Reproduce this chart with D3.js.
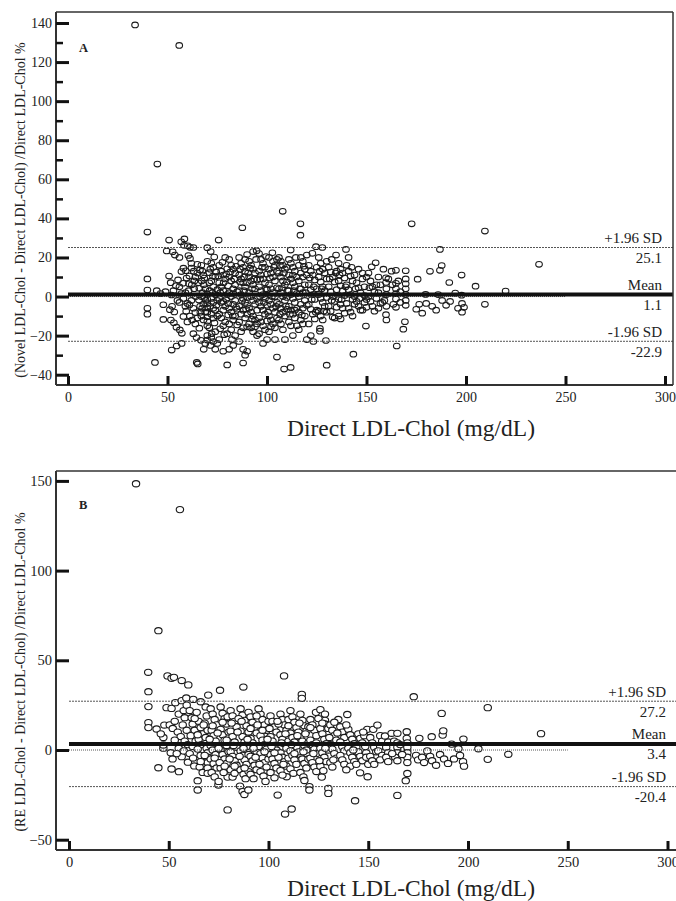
<!DOCTYPE html>
<html>
<head>
<meta charset="utf-8">
<script src="https://cdn.jsdelivr.net/npm/d3@7"></script>
<style>
  body { margin: 0; background: #fff; }
  svg text { font-family: "Liberation Serif", "DejaVu Serif", serif; fill: #222; }
</style>
</head>
<body>
<svg id="chart" width="676" height="901"></svg>
<script>
// ---- data ----
const xTicks = [0, 50, 100, 150, 200, 250, 300];
const yTicksA = [-40, -20, 0, 20, 40, 60, 80, 100, 120, 140];
const yMinorA = [-30, -10, 10, 30, 50, 70, 90, 110, 130];
const yTicksB = [-50, 0, 50, 100, 150];
const limitNames = ["+1.96 SD", "Mean", "-1.96 SD"];
const limitsA = [25.1, 1.1, -22.9];
const limitsB = [27.2, 3.4, -20.4];
const xTitle = "Direct LDL-Chol (mg/dL)";
const yTitleA = "(Novel LDL-Chol - Direct LDL-Chol) /Direct LDL-Chol %";
const yTitleB = "(RE LDL-Chol - Direct LDL-Chol) /Direct LDL-Chol %";

// panel A: [Direct LDL-Chol, % difference]
const ptsA = [
  [33.7,139],[55.9,128.5],[44.9,67.8],[107.9,43.6],[39.9,33],[39.9,9],[39.9,3.3],[39.9,-6],[39.9,-9],[43.7,-33.7],
  [44.6,3],[47.9,-11.7],[47.9,-4.2],[49,2.5],[49.6,23.3],[46.5,1.5],
  [50.8,28.9],[52.6,22.9],[53.7,21.2],[50.8,10.5],[51.6,7.1],[52.3,-5],[51.2,-6.7],[53.4,-7.9],[51.7,-12],[53.2,-13.4],
  [54.5,-15.7],[56.2,-17.1],[57.2,-18.8],[52.1,-27.4],[54.6,-25.3],[57.1,-24],[53,3],[54.2,5.5],[52,0.8],[56.9,28],
  [58.5,29.5],[58.3,26.2],[56,20],[58,14.5],[57,12.8],[59.2,13.2],[56,5],[57,1.5],[58,-1],[59,-5],[59.4,-7.5],[58,-10.2],
  [56,-3],[59,2],[60,-13],[55.3,8.5],[57.8,6.8],[59.6,9.5],[55,-2],[60,-3.5],
  [60.2,26],[61.3,25.2],[63,25.1],[61.3,19.5],[60.5,21],[62,17],[63.2,13],[61,10.5],[64,10],[62.2,6],[63.4,4],[60.6,3],
  [64.2,0],[62,-2],[61,-4.3],[63,-6],[64,-8.2],[61.2,-10],[62.4,-12],[64,-14],[64.7,-33.7],[65.2,-34.5],[63,-19],
  [65,16.5],[66.3,13.6],[65.5,7],[66,4.2],[65.8,-1.8],[66.4,-5],[65,-11],[66,-16.2],[64.6,-21],[62,14.6],[60.8,6.6],
  [67,16],[67.5,13],[68,11],[67.2,8],[68.2,6],[69,4],[67.6,2],[67,0],[69.2,-2],[68,-4],[67.4,-6],[69,-8],[67,-10],
  [68.1,-12],[66.8,-22.4],[68.2,-27],[69,-24],[70,25],[70,18],[70,1.3],[70,-1.4],[70,-3.6],[70,-5.8],[70,-8],[70,-10.4],
  [70,-12.7],[70,-15],[70,-20],[70,-22.3],[71.7,23],[72,17],[73,15],[71,12.2],[74,10],[72,8],[73,5],[71.2,3],[74,1],
  [72,-1],[73,-3],[71.4,-5],[74,-7],[72,-9],[73,-11],[71,-16],[74,-18],[72,-21],[73,-23],[71.6,-25],[74,-27],[75,-24],
  [75.7,28.9],[73.5,20.2],[71.5,14],[74.5,12.6],[72.6,2],[74.6,-4.5],[73.6,-13.5],[72.2,-19],
  [76,16],[77,13],[78,11],[79,9],[76,7],[77,5],[78,3],[80,1],[76,-1],[77,-3],[79,-5],[78,-7],[76,-9],[77,-11],[79,-13],
  [78,-15],[80,-19],[76,-22],[78,-28],[80,-35],[79,20],[81,19],[82,16],[83,14],[84,12],[81,10],[82,8],[84,6],[83,4],
  [81,2],[82,0],[84,-2],[83,-4],[81,-6],[82,-8],[84,-10],[83,-12],[81,-14],[82,-17],[84,-20],[83,-25],[81,-27],
  [75.5,10.5],[77.6,17.5],[80,14.2],[79.5,-1.5],[80.5,-9.5],[76.5,-16.5],[78.5,-19.5],[84.5,15.5],[83.5,9],[80.5,5.5],
  [85,2.5],[85,-6.5],[85,-14.5],[82.4,-22],
  [87.6,35.2],[86,20],[87,17],[88,15],[89,13],[86,11],[87,9],[88,7],[89,5],[86,3],[87,1],[88,-1],[89,-3],[86,-5],[88,-7],
  [87,-9],[89,-11],[86,-13],[88,-16],[87,-18],[86,-23],[88,-27],[89,-30],[88,-34],[90,-28],[93,23],[94.8,23.4],[91,18],
  [92,16],[93,14],[94,12],[91,10],[92,8],[93,6],[94,4],[91,2],[92,0],[93,-2],[94,-4],[91,-6],[92,-8],[93,-10],[94,-12],
  [91,-14],[92,-16],[93,-18],[95,-20],[90,21.5],[90.5,12],[90,7],[90,-0.5],[90,-4.5],[90,-9],[90,-15.5],[89,19],[94.5,19],
  [95,8.5],[95,-1],[95,-7],[95,-14],
  [96,22],[97,19],[98,17],[99,15],[96,13],[97,11],[98,9],[99,7],[96,5],[97,3],[98,1],[99,-1],[96,-3],[97,-5],[98,-7],
  [99,-9],[96,-11],[97,-13],[98,-15],[99,-17],[96,-19],[98,-24],[100,-22],[102.7,22.4],[101,20],[103,18],[104,16],
  [101,14],[102,12],[103,10],[104,8],[101,6],[102,4],[103,2],[104,0],[101,-2],[102,-4],[103,-6],[104,-8],[101,-10],
  [102,-12],[103,-14],[104,-16],[101,-18],[104,-22],[105,-31],[100,11.5],[100,3.5],[100,-4.5],[100,-12.5],[105,13],
  [105,4.5],[105,-3],[105,-11],[99.5,20.5],[105,19],
  [106,20],[107,18],[108,16],[109,14],[106,12],[107,10],[108,8],[109,6],[106,4],[107,2],[108,0],[109,-2],[106,-4],
  [107,-6],[108,-8],[109,-10],[106,-12],[107,-14],[108,-17],[109,-22],[108.6,-37.1],[111.9,-36.3],[111.9,23.8],[111,19],
  [112,17],[113,15],[114,13],[111,11],[112,9],[113,7],[114,5],[111,3],[112,1],[113,-1],[114,-3],[111,-5],[112,-7],
  [113,-9],[114,-11],[111,-13],[112,-15],[113,-20],[110,15],[110,7.5],[110,-0.5],[110,-6.5],[115,10],[115,1.5],[115,-6],
  [115,-15],[114.5,20],
  [116.8,37.2],[116.8,31.4],[117,20],[118,18],[116,16],[119,14],[117,12],[118,10],[116,8],[119,6],[117,4],[118,2],
  [116,0],[119,-2],[117,-4],[118,-6],[116,-8],[119,-10],[117,-12],[118,-14],[116,-17],[120,-22],[120,21.2],[122.8,22.1],
  [124.6,25.5],[121,16],[122,13],[123,11],[124,8.5],[121,6],[122,3.5],[123,1],[124,-1.5],[121,-4],[122,-6.5],[123,-9],
  [124,-11.5],[121,-14],[123.3,-23],[122,-20],[120,11],[120,-4.5],[125,15],[125,4],[125,-7],
  [127.8,25.1],[126,20],[127,17],[128,14],[129,12],[126,10],[127,7.5],[128,5],[129,3],[126,1],[127,-1],[128,-3],
  [129,-5],[126,-7.5],[127,-10],[128,-12],[126.6,-16.3],[126.6,-17.7],[129.6,-22.5],[130,-35.1],[130,18],[130,9],
  [130,-0.5],[130,-8],[131,15],[132,12.5],[133,10],[134,7.5],[131,5],[132,2.5],[133,0],[134,-2.5],[131,-5],[132,-7.5],
  [133,-10.5],[134,-11],[134.7,21.2],[132.5,19],[135,13],[135,3.5],[135,-5.5],
  [139.7,24.1],[136,17],[137,14],[138,12],[139,9.5],[136,8],[137,5.5],[138,3],[139,0.5],[136,-1.5],[137,-4],[138,-6],
  [139,-8.5],[136,-10],[137,-11.5],[140,16],[141,13],[142,10.5],[143,8],[140,6],[141,3.5],[142,1],[143,-1.5],[140,-3.5],
  [141,-6],[142,-8],[143,-10],[143.4,-29.5],[144,11],[145,7],[146,4.5],[147,2],[144,0],[145,-2.5],[146,-5],[147,-7],
  [144,-4],[148,9],[148,12],[149,5],[149,0.5],[149,-3],[148,-7],[149.7,-15.1],[141,20],[146,14],[150,10],[150,-1.5],
  [150,-5.5],
  [152.6,15.2],[154.6,17.3],[151,12],[152,8],[153,5],[154,2.5],[151,0],[152,-2.5],[153,-5],[154,-7.5],[156,10],[157,6],
  [156,2],[155,-1],[157,-3.5],[156,-6],[158.5,14],[159.8,9.6],[159.8,7.2],[160,4],[160,1],[159,-2],[160,-5],[159.8,-9.3],
  [160,-12],[162.6,13],[164.8,13.4],[163,6],[164.8,6.8],[164.8,4],[164.8,1.5],[164.8,-1.2],[163.5,-4],[164.8,-5.5],
  [165.2,-25.3],[169.7,13.2],[169.7,9],[169.7,6.5],[169.7,4],[169.7,1],[169.7,-2],[169.7,-4.5],[169.3,-12.9],
  [168.5,-16.7],[167,2.5],[167,-3],[166,8],
  [172.7,37.2],[175.7,8.9],[175,-6.5],[176.5,-4],[179.7,1.1],[178,-8.5],[181.9,12.9],[180,-3.5],[183,-5],[185,-7],
  [186.9,13.4],[187.8,15.9],[186.9,24.1],[186,1],[188,-2],[190,-4.5],[191.6,7.2],[192,-2.5],[194.6,1.8],[196,-6],
  [197.8,11],[197.8,0.7],[198,-3.5],[198,-8],[199,-5.5],[204.8,5.3],[209.5,33.5],[209.5,-4],[219.9,2.8],[236.7,16.5],
  // denser core
  [63.5,8],[65,12],[66.5,-8],[68.5,9.5],[68.5,-0.5],[71,7],[72.8,10.5],[73,-6],[75,3.5],[75,-2],[75,-10],[76.5,2],
  [78.2,7],[78,-2.5],[79.5,11.5],[80.5,-3.5],[81.5,12.5],[82.8,-10],[83,1.5],[84.5,-5.5],[86.5,14],[86.5,7.5],
  [87.5,-2],[88.5,3],[88.5,10],[89.5,-6.5],[91.5,14.5],[92.5,4],[92.5,-11.5],[93.5,9],[94,-15.5],[96.5,9],[96.5,0],
  [97.5,15],[98.5,-3],[99.5,4],[100.5,-8],[101.5,9.5],[102.5,0],[102,-15.5],[103.5,15],[104.5,-5],[106.5,16],
  [106.5,-9],[107.5,4.5],[108.5,12],[109.5,-5],[110.5,3],[111.5,-9],[113,11],[113.5,3],[114,-7],[116.5,4],[117.5,-9.5],
  [118.5,15.5],[119.5,2],[121.5,9.5],[122.5,-1.5],[123.5,5],[124.5,-8],[126.5,13],[127.5,4],[128.5,-7.5],[131.5,9],
  [132.5,-2],[134.5,12],[136.5,11],[137.5,-1.5],[139.5,5],[142.5,15],[144.5,4],[146.5,-1],[151.5,4.5],[155,6],
  [158,-3],[161,9]
];

// panel B: [Direct LDL-Chol, % difference]
const ptsB = [
  [33.6,148.4],[55.6,134],[44.8,66.5],[39.7,43.3],[39.8,32.5],[39.8,24.2],[39.8,15.3],[39.8,12.5],[43.9,11.7],[47.8,13.9],
  [48.9,23.6],[47.3,1],[47.3,2.8],[44.8,-9.9],[47.3,7],[49.4,41.3],[46,9],
  [51.4,40],[52.6,40.5],[56.5,38.7],[59.8,36.3],[51.4,-10.6],[55.1,-12.1],[51.9,-5],[56.5,-3.7],[51.4,23.2],[53.3,26.4],
  [50.5,14],[52,12],[53,16],[54.5,10],[55,20],[56.5,27.5],[57.5,22],[58,18],[58.8,29],[59,25],[57,14],[59,11],[56,7.5],
  [58,5],[59.5,3],[55,1],[57.5,-0.5],[59.6,-6.8],[53,5.5],[51,-1.5],[54,-2],
  [62.3,28.2],[66,26.9],[64.5,-17.1],[64.5,-22.3],[62.8,-8.9],[69.8,30.6],[60.5,22],[61.5,18],[62,14.5],[63,11],[61,8],
  [63.5,5],[62,2],[60.5,-2],[62.2,-4.5],[64,21],[65,16],[66,12.5],[67,9],[65,6],[66.5,3],[64.5,0.5],[66,-3],[67.5,-6],
  [65.5,-9.5],[67,-12.5],[68.5,24],[69,19],[68,15],[69.5,11],[68.5,7],[69,1],[69.5,-1.5],[69.5,-4],[69.5,-7],[69.5,-10],
  [69.5,-13],
  [75.7,33.3],[74.9,-19.5],[79.5,-33.4],[79.5,-15.1],[71,23],[72,20],[73,17],[74,14],[71.5,11],[72.5,8],[73.5,5],
  [71,2.5],[72,0],[73.5,-2.5],[71,-5],[72.5,-7.5],[74,-10],[71.5,-12.5],[73,-15],[76,24],[77,20.5],[78,17.5],[79,14.5],
  [76,11.5],[77,8.5],[78,5.5],[79,2.5],[76,0],[77,-2.5],[78,-5],[79,-7.5],[76,-10],[77.5,-12.5],[75,-17.5],[79.5,18.5],
  [80,10],[80,-1],
  [82,-15.1],[85.7,-20.1],[87,-23.2],[87.9,-24.8],[89.9,-22.3],[87.4,35.1],[81,22],[82,19],[83,16],[84,13],[81,10.5],
  [82,7.5],[83,4.5],[84,1.5],[81,-1],[82,-3.5],[83,-6],[84,-8.5],[81,-11],[83,-13],[86,23],[87,19.5],[88,16.5],
  [89,13.5],[86,10.5],[87,7.5],[88,4.5],[89,2],[86,-0.5],[87,-3],[88,-5.5],[89,-8],[86,-11],[87.5,-13.5],[88.5,-16],
  [85,17.5],[90,21],[90,10],[90,-2.5],[90,-12],
  [91,18.5],[92,15.5],[93,12.5],[94,9.5],[91,6.5],[92,4],[93,1.5],[94,-1],[91,-3.5],[92,-6],[93,-8.5],[94,-11],
  [91,-13.5],[92.5,-16],[96,20],[97,17],[98,14],[99,11],[96,8],[97,5.5],[98,3],[99,0.5],[96,-2],[97,-4.5],[98,-7],
  [99,-9.5],[96,-12],[97.5,-14.5],[95,23],[95,2],[100,16],[100,6],[100,-5],[98.5,-17.5],[94,19],
  [104.6,-25.1],[107.8,41.3],[108.3,-35.7],[109.1,-14.9],[101,19],[102,16],[103,13],[104,10],[101,7.5],[102,5],
  [103,2.5],[104,0],[101,-2.5],[102,-5],[103,-7.5],[104,-10],[101,-12.5],[103,-15.5],[106,20],[107,17],[108,14],
  [109,11],[106,8.5],[107,6],[108,3.5],[109,1],[106,-1.5],[107,-4],[108,-6.5],[109,-9],[106,-11.5],[107,-14],
  [105,14.5],[105,-4],[110,17],[110,5],[110,-4.5],
  [111.6,-32.9],[116.7,31],[116.7,28.8],[111,22],[112,18.5],[113,15.5],[114,12.5],[111,9.5],[112,7],[113,4.5],[114,2],
  [111,-0.5],[112,-3],[113,-5.5],[114,-8],[111,-10.5],[112.5,-13],[116,20],[117,16.5],[118,13.5],[119,10.5],[116,7.5],
  [117,5],[118,2.5],[119,0],[116,-2.5],[117,-5],[118,-7.5],[119,-10],[116,-12.5],[117.5,-15],[115,10],[115,-1],
  [120,13],[120,4],[120,-5],[118,-17],
  [120.5,-20.4],[120.5,-22.3],[126.7,-15.1],[130,-21.4],[130,-24.2],[123.8,21],[126,22.5],[128.3,20],[128.3,16.5],
  [128.3,14.5],[121,17],[122,14],[123,11],[124,8],[121,5.5],[122,3],[123,0.5],[124,-2],[121,-4.5],[122,-7],[123,-9.5],
  [124,-12],[126,12],[127,9],[128,6],[129,3.5],[126,1],[127,-1.5],[128,-4],[129,-6.5],[126,-9],[127.5,-11.5],
  [125,17.5],[130,12],[130,0],
  [139.5,19.8],[143.4,-28.3],[149.7,-14.9],[145.9,-12.7],[131,14],[132,11],[133,8],[134,5.5],[131,3],[132,0.5],
  [133,-2],[134,-4.5],[131,-7],[132,-9.5],[135,17],[136,13],[137,10],[138,7],[136,4.5],[137,2],[138,-0.5],[136,-3],
  [137,-5.5],[138,-8],[140,11.5],[141,8.5],[142,6],[143,3.5],[140,1],[141,-1.5],[142,-4],[143,-6.5],[141,-9],[145,9],
  [146,6.5],[147,4],[144,1.5],[145,-1],[146,-3.5],[147,-6],[149.5,11.5],[148,8],[148.5,2],[149,-1.5],[149,-4],[150,-8],
  [133,15.5],[139,-11],
  [152.5,11.5],[154.6,13.9],[151,7],[152,4],[153,1.5],[154,-1],[151,-3.5],[152,-6],[153,-8],[156,8],[157,5],[156,2],
  [155,-0.5],[157,-3],[156,-5.5],[158.4,7.8],[160,4.5],[159,1.5],[160,-1.5],[159,-4],[160,-6.5],[161.7,9.3],[164.6,9.3],
  [163,5],[164.6,4],[164.6,1.5],[164.6,-1.5],[163.5,-4],[164.6,-6],[164.6,-25.3],[169.3,10.2],[169.3,6.5],[169.6,4],
  [169.6,1.5],[169.6,-1.5],[169.6,-4],[169.6,-7],[169.6,-13.1],[168.8,-17.1],[167,-2.5],[166,3],[162,-2],
  [172.8,29.7],[175.6,6.5],[174,-3],[175,-5.5],[177,-4],[179.6,-0.5],[178,-7],[181.8,7.4],[181,-3.5],[182,-6],
  [184,-8.5],[186.8,20.4],[187.3,8.3],[187.6,10.7],[186,-2.5],[188,-5],[190,-7.5],[191.8,3.3],[193,-5],[195.2,0.7],
  [196,-3],[197.7,6.1],[197.5,-6.5],[198,-9],[205.2,0.7],[209.9,23.6],[209.9,-5.2],[220.2,-2.4],[236.6,9.1],
  // denser core
  [63,17.5],[64.5,8.5],[66,-6.5],[67.5,14],[68,-3],[70.5,6],[72,13.5],[73,-4.5],[74.5,9.5],[75,1],[75.5,-7],[77,15.5],
  [78,-9],[79,5.5],[80.5,-5],[81.5,15],[82.5,2.5],[83,-9],[84.5,10],[85.5,-3.5],[86.5,16],[87.5,1],[88,-10],[89.5,6],
  [91,12],[92.5,1],[93.5,-4],[94.5,14],[95.5,-8],[97,11],[98,-1],[99.5,6],[100.5,12],[101.5,2],[103,-1.5],[104.5,16],
  [106.5,4],[107.5,-8],[108.5,9],[110,13.5],[111.5,3],[113,-2],[114.5,8],[115.5,15],[117.5,-1],[118.5,9],[121,12.5],
  [122.5,-2],[124,4],[125.5,-6],[127,15],[128.5,1],[130.5,7],[132.5,-5.5],[134.5,9.5],[139,14],[142.5,0],[144,-8],
  [147.5,10]
];

const svg = d3.select("#chart");

function drawPanel(p) {
  const g = svg.append("g");
  const x = d3.scaleLinear().domain([0, 300]).range(p.xRange);
  const y = d3.scaleLinear().domain(p.yDomain).range(p.yRange);

  // points
  g.append("g").selectAll("ellipse")
    .data(p.pts)
    .join("ellipse")
    .attr("cx", d => x(d[0]))
    .attr("cy", d => y(d[1]))
    .attr("rx", p.rx)
    .attr("ry", p.ry)
    .attr("fill", p.fill)
    .attr("stroke", "#1a1a1a")
    .attr("stroke-width", 1.1);

  // zero reference (dotted, stops at 250)
  g.append("line")
    .attr("x1", x(0)).attr("x2", x(250))
    .attr("y1", y(0)).attr("y2", y(0))
    .attr("stroke", "#555").attr("stroke-width", 1)
    .attr("stroke-dasharray", "1,1");

  // mean and limits of agreement
  p.limits.forEach((v, i) => {
    g.append("line")
      .attr("x1", x(0)).attr("x2", p.lineEnd)
      .attr("y1", y(v)).attr("y2", y(v))
      .attr("stroke", i === 1 ? "#111" : "#555")
      .attr("stroke-width", i === 1 ? 4 : 1)
      .attr("stroke-dasharray", i === 1 ? null : "2,1");
    g.append("text")
      .attr("x", p.labelX).attr("y", y(v) - 4.5)
      .attr("text-anchor", "end").attr("font-size", 15)
      .text(limitNames[i]);
    g.append("text")
      .attr("x", p.labelX).attr("y", y(v) + 15.5)
      .attr("text-anchor", "end").attr("font-size", 15)
      .text(v.toFixed(1));
  });

  // frame
  g.append("line").attr("x1", 56).attr("x2", p.frameRight).attr("y1", p.top).attr("y2", p.top)
    .attr("stroke", "#333").attr("stroke-width", 1.5);
  if (p.rightBorder) {
    g.append("line").attr("x1", p.frameRight).attr("x2", p.frameRight).attr("y1", p.top).attr("y2", p.bottom)
      .attr("stroke", "#333").attr("stroke-width", 1.5);
  }
  g.append("line").attr("x1", 56).attr("x2", 56).attr("y1", p.top).attr("y2", p.bottom)
    .attr("stroke", "#333").attr("stroke-width", 2);
  g.append("line").attr("x1", 56).attr("x2", p.frameRight).attr("y1", p.bottom).attr("y2", p.bottom)
    .attr("stroke", "#333").attr("stroke-width", 2);

  // y axis
  const yAxis = g.append("g").attr("transform", "translate(56,0)")
    .call(d3.axisLeft(y).tickValues(p.yTicks).tickSize(-13).tickPadding(4));
  yAxis.select(".domain").remove();
  yAxis.selectAll(".tick line").attr("stroke", "#111").attr("stroke-width", 3);
  yAxis.selectAll(".tick text").attr("font-size", p.tickFont).attr("font-family", null);

  if (p.yMinor) {
    const yMin = g.append("g").attr("transform", "translate(56,0)")
      .call(d3.axisLeft(y).tickValues(p.yMinor).tickSize(-7).tickFormat(""));
    yMin.select(".domain").remove();
    yMin.selectAll(".tick line").attr("stroke", "#111").attr("stroke-width", 2.5);
  }

  // x axis
  const xAxis = g.append("g").attr("transform", `translate(0,${p.bottom})`)
    .call(d3.axisBottom(x).tickValues(xTicks).tickSize(-9).tickPadding(7));
  xAxis.select(".domain").remove();
  xAxis.selectAll(".tick line").attr("stroke", "#111").attr("stroke-width", 3);
  xAxis.selectAll(".tick text").attr("font-size", p.tickFont).attr("font-family", null);

  // titles
  g.append("text")
    .attr("x", 411).attr("y", p.xTitleY)
    .attr("text-anchor", "middle").attr("font-size", 23.5)
    .text(xTitle);
  g.append("text")
    .attr("transform", `translate(25,${p.yTitleMid}) rotate(-90)`)
    .attr("text-anchor", "middle").attr("font-size", 14)
    .text(p.yTitle);

  // panel letter
  g.append("text")
    .attr("x", 79).attr("y", p.letterY)
    .attr("font-size", 12.5).attr("font-weight", "bold")
    .text(p.letter);
}

drawPanel({
  pts: ptsA, limits: limitsA, letter: "A", letterY: 52,
  xRange: [68, 665], yDomain: [-40, 140], yRange: [374.7, 23],
  yTicks: yTicksA, yMinor: yMinorA,
  top: 12, bottom: 385, frameRight: 673, rightBorder: true, lineEnd: 673,
  labelX: 662, rx: 3.3, ry: 2.8, fill: "none", tickFont: 14,
  xTitleY: 436, yTitle: yTitleA, yTitleMid: 210
});

drawPanel({
  pts: ptsB, limits: limitsB, letter: "B", letterY: 509,
  xRange: [69, 667.5], yDomain: [-50, 150], yRange: [839.7, 480.9],
  yTicks: yTicksB, yMinor: null,
  top: 471, bottom: 850, frameRight: 676, rightBorder: false, lineEnd: 676,
  labelX: 666, rx: 3.7, ry: 3.1, fill: "#fff", tickFont: 14.5,
  xTitleY: 896, yTitle: yTitleB, yTitleMid: 672
});
</script>
</body>
</html>
